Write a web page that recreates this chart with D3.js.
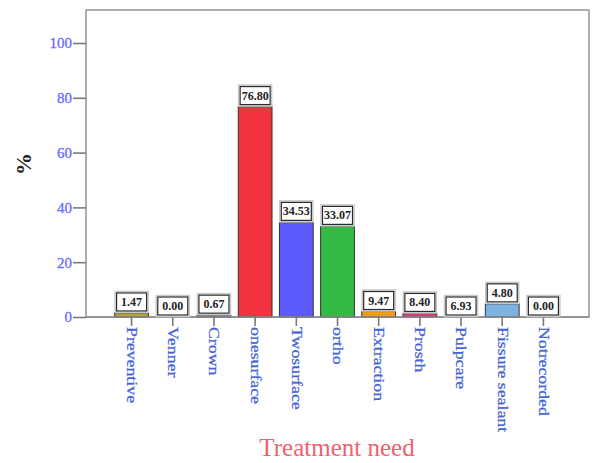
<!DOCTYPE html>
<html><head><meta charset="utf-8">
<script src="https://cdn.jsdelivr.net/npm/d3@7"></script>
<style>html,body{margin:0;padding:0;background:#fff;}svg{display:block;}</style>
</head><body>
<svg id="c" width="593" height="463"></svg>
<script>
const categories = ["Preventive","Venner","Crown","onesurface","Twosurface","ortho","Extraction","Prosth","Pulpcare","Fissure sealant","Notrecorded"];
const barValues = [1.47, 0, 0.67, 76.80, 34.53, 33.07, 2.0, 1.3, 0, 4.80, 0];
const valueLabels = ["1.47","0.00","0.67","76.80","34.53","33.07","9.47","8.40","6.93","4.80","0.00"];
const barColors = ["#b3a43c","#888888","#8a8a8a","#f2323f","#5b5bfb","#33bb44","#f29a1c","#d43a7a","#999999","#7eb2e0","#888888"];
const yTicks = [0,20,40,60,80,100];

const svg = d3.select("#c");
const x = d3.scaleBand().domain(categories).range([111,564]).paddingInner(0.18).paddingOuter(0.09);
const y = d3.scaleLinear().domain([0,100]).range([317,43]);

// frame
svg.append("rect").attr("x",86).attr("y",10).attr("width",503).attr("height",307)
  .attr("fill","none").attr("stroke","#9a9a9a").attr("stroke-width",1.6);

// y axis
const yAxis = svg.append("g").attr("transform","translate(86,0)")
  .call(d3.axisLeft(y).tickValues(yTicks).tickSize(13).tickPadding(1).tickFormat(d3.format("d")));
yAxis.select(".domain").remove();
yAxis.selectAll(".tick line").attr("stroke","#7a7a7a").attr("stroke-width",1.6);
yAxis.selectAll(".tick text").attr("fill","#6a6aff").attr("font-family","'Liberation Serif', serif")
  .attr("font-size",15).attr("stroke","#6a6aff").attr("stroke-width",0.3);

// bars
svg.append("g").selectAll("rect").data(categories).join("rect")
  .attr("x",d=>x(d)).attr("width",x.bandwidth())
  .attr("y",(d,i)=>y(barValues[i])).attr("height",(d,i)=>y(0)-y(barValues[i]))
  .attr("fill",(d,i)=>barColors[i]).attr("stroke","#333").attr("stroke-width",1);

// baseline
svg.append("line").attr("x1",86).attr("x2",589).attr("y1",y(0)).attr("y2",y(0))
  .attr("stroke","#8c8c8c").attr("stroke-width",1.6);

// x axis ticks and labels
const xAxis = svg.append("g").attr("transform",`translate(0,${y(0)})`)
  .call(d3.axisBottom(x).tickSize(9).tickFormat(""));
xAxis.select(".domain").remove();
xAxis.selectAll(".tick line").attr("stroke","#7a7a7a").attr("stroke-width",1.6);
svg.append("g").selectAll("text").data(categories).join("text")
  .attr("transform",d=>`translate(${x(d)+x.bandwidth()/2},327) rotate(90) scale(1.27,1)`)
  .attr("dy","0.33em").attr("text-anchor","start")
  .attr("font-family","'Liberation Serif', serif").attr("font-size",14)
  .attr("fill","#4464d4").attr("stroke","#4464d4").attr("stroke-width",0.25).text(d=>d);

// value label boxes
const lab = svg.append("g").selectAll("g").data(categories).join("g")
  .attr("transform",(d,i)=>`translate(${x(d)+x.bandwidth()/2},${y(barValues[i])})`);
lab.append("rect").attr("x",-16.5).attr("y",-21.5).attr("width",33).attr("height",21)
  .attr("fill","none").attr("stroke","#c8c8c8").attr("stroke-width",1.5);
lab.append("rect").attr("x",-15).attr("y",-20).attr("width",30).attr("height",18)
  .attr("fill","#fff").attr("stroke","#2a2a2a").attr("stroke-width",1.2);
lab.append("text").attr("y",-7).attr("text-anchor","middle")
  .attr("font-family","'Liberation Serif', serif").attr("font-size",12).attr("font-weight","bold")
  .attr("fill","#222").text((d,i)=>valueLabels[i]);

// axis titles
svg.append("text").attr("transform","translate(31,164) rotate(-90)").attr("text-anchor","middle")
  .attr("font-family","'Liberation Serif', serif").attr("font-size",22).attr("font-weight","bold")
  .attr("fill","#222").text("%");
svg.append("text").attr("x",337).attr("y",456).attr("text-anchor","middle")
  .attr("font-family","'Liberation Serif', serif").attr("font-size",25)
  .attr("fill","#f25f6d").text("Treatment need");
</script>
</body></html>
